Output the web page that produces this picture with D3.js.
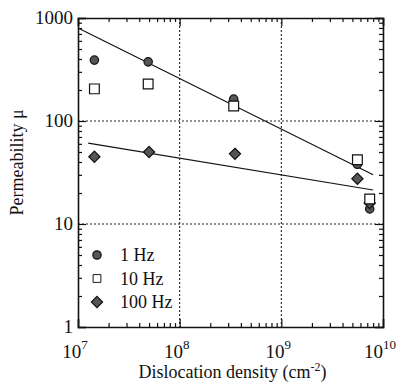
<!DOCTYPE html>
<html>
<head>
<meta charset="utf-8">
<script src="https://cdn.jsdelivr.net/npm/d3@7"></script>
<style>
  body { margin: 0; background: #fff; font-family: "Liberation Serif", "DejaVu Serif", serif; }
  .axis path { stroke: #111; stroke-width: 1.6; }
  .axis line { stroke: #111; stroke-width: 1.2; }
  .grid line { stroke: #222; stroke-width: 1.1; stroke-dasharray: 2,2; }
</style>
</head>
<body>
<div id="chart"></div>
<script>
// data
var density1 = [1.45e7, 4.9e7, 3.4e8, 5.6e9, 7.4e9]
var mu1Hz = [390, 375, 163, 38, 14]
var density10 = [1.45e7, 4.9e7, 3.4e8, 5.6e9, 7.4e9]
var mu10Hz = [205, 229, 140, 42, 17.5]
var density100 = [1.45e7, 5.0e7, 3.5e8, 5.6e9, 7.4e9]
var mu100Hz = [45, 50, 48, 27.5, 16]

// fitted lines [x0, x1], [y0, y1]
var fitX1 = [1e7, 8.0e9], fitY1 = [800, 30]
var fitX2 = [1.26e7, 8.0e9], fitY2 = [61, 21.4]

var xMajor = [1e7, 1e8, 1e9, 1e10]
var xExp = ['7', '8', '9', '10']
var yMajor = [1, 10, 100, 1000]
var yLabels = ['1', '10', '100', '1000']
var legendNames = ['1 Hz', '10 Hz', '100 Hz']

var serif = "Liberation Serif, DejaVu Serif, serif"

var fullWidth = 405;
var fullHeight = 383;
var margin = {top: 18, right: 22, bottom: 56, left: 78};
var width = fullWidth - margin.left - margin.right;
var height = fullHeight - margin.top - margin.bottom;

var x = d3.scaleLog().domain([1e7, 1e10]).range([0, width]);
var y = d3.scaleLog().domain([1, 1000]).range([height, 0]);

function minors(lo, hi) {
  var out = []
  for (var d = lo; d < hi; d *= 10) {
    for (var k = 2; k <= 9; k++) out.push(d * k)
  }
  return out
}
var xMinor = minors(1e7, 1e10)
var yMinor = minors(1, 1000)

var svg = d3.select("#chart")
  .append("svg")
    .attr("width", fullWidth)
    .attr("height", fullHeight)
  .append("g")
    .attr("transform", "translate(" + margin.left + "," + margin.top + ")");

// dotted grid at inner decades
svg.append("g").attr("class", "grid")
  .selectAll("line").data(xMajor.slice(1, 3)).enter().append("line")
    .attr("x1", function(d) { return x(d); })
    .attr("x2", function(d) { return x(d); })
    .attr("y1", 0).attr("y2", height);
svg.append("g").attr("class", "grid")
  .selectAll("line").data(yMajor.slice(1, 3)).enter().append("line")
    .attr("y1", function(d) { return y(d); })
    .attr("y2", function(d) { return y(d); })
    .attr("x1", 0).attr("x2", width);

// frame with inward ticks on all four sides
function addAxis(gen, scale, vals, size, tr) {
  var g = svg.append("g").attr("class", "axis")
  if (tr) g.attr("transform", tr)
  g.call(gen(scale).tickValues(vals).tickSize(size).tickFormat(""))
  return g
}
addAxis(d3.axisBottom, x, xMajor, -8, "translate(0," + height + ")")
addAxis(d3.axisBottom, x, xMinor, -4, "translate(0," + height + ")").select(".domain").remove()
addAxis(d3.axisTop, x, xMajor, -8)
addAxis(d3.axisTop, x, xMinor, -4).select(".domain").remove()
addAxis(d3.axisLeft, y, yMajor, -8)
addAxis(d3.axisLeft, y, yMinor, -4).select(".domain").remove()
addAxis(d3.axisRight, y, yMajor, -8, "translate(" + width + ",0)")
addAxis(d3.axisRight, y, yMinor, -4, "translate(" + width + ",0)").select(".domain").remove()

function label(sel, size) {
  return sel.style("font-family", serif).style("font-size", size + "px").attr("fill", "#111")
}

// tick labels
label(svg.append("g").selectAll("text").data(yMajor).enter().append("text"), 19)
  .attr("x", -5)
  .attr("y", function(d) { return y(d) + 6; })
  .attr("text-anchor", "end")
  .text(function(d, i) { return yLabels[i]; });

var xl = label(svg.append("g").selectAll("text").data(xMajor).enter().append("text"), 19)
  .attr("x", function(d) { return x(d) - 3; })
  .attr("y", height + 31)
  .attr("text-anchor", "middle")
xl.append("tspan").text("10")
xl.append("tspan").attr("dy", -9).style("font-size", "13px").text(function(d, i) { return xExp[i]; })

// axis titles
label(svg.append("text"), 18)
  .attr("transform", "translate(" + (-55) + "," + (height / 2 - 10) + ") rotate(-90)")
  .attr("text-anchor", "middle")
  .text("Permeability \u03bc");

var xt = label(svg.append("text"), 18)
  .attr("x", width / 2 + 2)
  .attr("y", height + 51)
  .attr("text-anchor", "middle")
xt.append("tspan").text("Dislocation density (cm")
xt.append("tspan").attr("dy", -7).style("font-size", "12px").text("-2")
xt.append("tspan").attr("dy", 7).text(")")

// fit lines
var line = d3.line()
  .x(function(d) { return x(d[0]); })
  .y(function(d) { return y(d[1]); });
svg.append("path").datum(d3.zip(fitX1, fitY1))
  .attr("d", line).attr("fill", "none").attr("stroke", "#111").attr("stroke-width", 1.1);
svg.append("path").datum(d3.zip(fitX2, fitY2))
  .attr("d", line).attr("fill", "none").attr("stroke", "#111").attr("stroke-width", 1.1);

// markers
var circleSym = d3.symbol().type(d3.symbolCircle).size(55)
var squareSym = d3.symbol().type(d3.symbolSquare).size(95)
var diamondSym = d3.symbol().type(d3.symbolDiamond2).size(80)

function drawPoints(xs, ys, sym, fill) {
  svg.append("g").selectAll("path").data(d3.zip(xs, ys)).enter().append("path")
    .attr("transform", function(d) { return "translate(" + x(d[0]) + "," + y(d[1]) + ")"; })
    .attr("d", sym)
    .attr("fill", fill)
    .attr("stroke", "#111")
    .attr("stroke-width", 1.2);
}
drawPoints(density1, mu1Hz, circleSym, "#555")
drawPoints(density100, mu100Hz, diamondSym, "#555")
drawPoints(density10, mu10Hz, squareSym, "#fff")

// legend
var legSyms = [circleSym, squareSym, diamondSym]
var legFills = ["#555", "#fff", "#555"]
var leg = svg.selectAll(".leg").data(legendNames).enter().append("g")
  .attr("class", "leg")
  .attr("transform", function(d, i) { return "translate(19," + (237 + i * 23.5) + ")"; });
leg.append("path")
  .attr("d", function(d, i) { return legSyms[i](); })
  .attr("fill", function(d, i) { return legFills[i]; })
  .attr("stroke", "#111").attr("stroke-width", 1.2)
  .attr("transform", function(d, i) { return i == 1 ? "scale(0.8)" : null; });
label(leg.append("text"), 18)
  .attr("x", 23).attr("y", 6)
  .text(function(d) { return d; });
</script>
</body>
</html>
